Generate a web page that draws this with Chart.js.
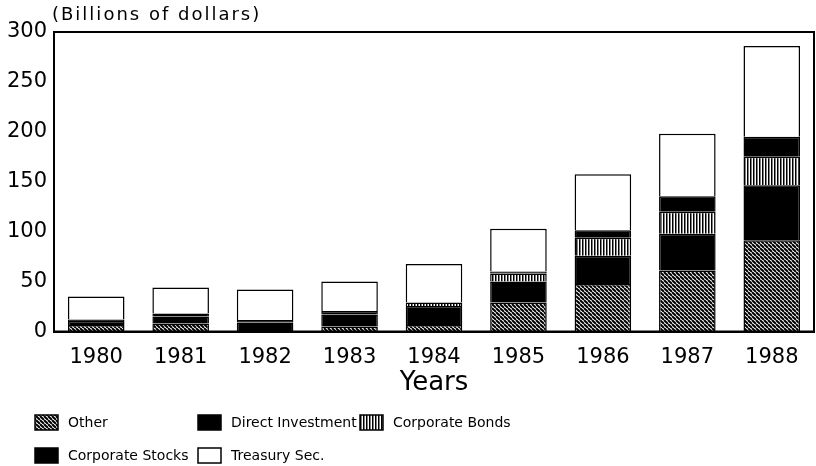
<!DOCTYPE html>
<html>
<head>
<meta charset="utf-8">
<script src="https://cdn.jsdelivr.net/npm/chart.js@4/dist/chart.umd.min.js"></script>
<style>
  html, body { margin: 0; padding: 0; background: #fff; }
  #wrap { width: 816px; height: 466px; }
</style>
</head>
<body>
<div id="wrap"><canvas id="barChart" width="816" height="466"></canvas></div>
<script>
// data (billions of dollars)
const years = ["1980", "1981", "1982", "1983", "1984", "1985", "1986", "1987", "1988"];
const other = [6.5, 8, 0, 5, 6.5, 29, 47.5, 61, 91.5];
const corpStocks = [4, 7, 9, 12, 19, 21, 28.5, 37, 55];
const corpBonds = [0, 0, 0, 0, 3.5, 8, 18, 22, 28.5];
const directInv = [1.5, 3, 2.5, 3.5, 0, 2, 7.5, 15.5, 20];
const treasury = [23, 26, 30.5, 29.5, 38.5, 43, 56, 62.5, 91];
const yTicks = [0, 50, 100, 150, 200, 250, 300];

const FONT = "'DejaVu Sans', sans-serif";

// fill patterns
function hatchPattern() {
  const c = document.createElement("canvas");
  c.width = 4;
  c.height = 4;
  const g = c.getContext("2d");
  g.fillStyle = "#fff";
  g.fillRect(0, 0, 4, 4);
  g.strokeStyle = "#000";
  g.lineWidth = 2;
  [-4, 0, 4].forEach((k) => {
    g.beginPath();
    g.moveTo(k, 0);
    g.lineTo(k + 4, 4);
    g.stroke();
  });
  return g.createPattern(c, "repeat");
}

function stripePattern() {
  const c = document.createElement("canvas");
  c.width = 3;
  c.height = 3;
  const g = c.getContext("2d");
  g.fillStyle = "#fff";
  g.fillRect(0, 0, 3, 3);
  g.fillStyle = "#000";
  g.fillRect(0, 0, 1.5, 3);
  return g.createPattern(c, "repeat");
}

const hatch = hatchPattern();
const stripes = stripePattern();

const ds = (label, data, bg) => ({
  label: label,
  data: data,
  backgroundColor: bg,
  borderColor: "#000",
  borderWidth: 1.5,
  barPercentage: 0.67,
  categoryPercentage: 1,
});

const datasets = [
  ds("Other", other, hatch),
  ds("Corporate Stocks", corpStocks, "#000"),
  ds("Corporate Bonds", corpBonds, stripes),
  ds("Direct Investment", directInv, "#000"),
  ds("Treasury Sec.", treasury, "#fff"),
];

// legend layout: [dataset index, x, y]
const legendItems = [
  [0, 35, 423],
  [3, 198, 423],
  [2, 360, 423],
  [1, 35, 456],
  [4, 198, 456],
];

const extras = {
  id: "extras",
  afterDraw(chart) {
    const ctx = chart.ctx;
    const a = chart.chartArea;
    ctx.save();
    // frame
    ctx.strokeStyle = "#000";
    ctx.lineWidth = 2;
    ctx.strokeRect(a.left, a.top, a.right - a.left, a.bottom - a.top);
    // unit label
    ctx.fillStyle = "#000";
    ctx.font = "18px " + FONT;
    ctx.letterSpacing = "2px";
    ctx.textBaseline = "middle";
    ctx.textAlign = "left";
    ctx.fillText("(Billions of dollars)", 52, 15);
    // legend
    ctx.font = "14px " + FONT;
    ctx.letterSpacing = "0px";
    legendItems.forEach(([i, x, y]) => {
      const d = chart.data.datasets[i];
      ctx.fillStyle = d.backgroundColor;
      ctx.fillRect(x, y - 8, 23, 15);
      ctx.lineWidth = 1.5;
      ctx.strokeRect(x, y - 8, 23, 15);
      ctx.fillStyle = "#000";
      ctx.fillText(d.label, x + 33, y);
    });
    ctx.restore();
  },
};

new Chart(document.getElementById("barChart"), {
  type: "bar",
  data: {labels: years, datasets: datasets},
  plugins: [extras],
  options: {
    responsive: false,
    devicePixelRatio: 1,
    animation: false,
    layout: {padding: {top: 32, right: 2, left: 0, bottom: 0}},
    plugins: {legend: {display: false}, tooltip: {enabled: false}},
    scales: {
      x: {
        stacked: true,
        grid: {display: false, drawTicks: false},
        border: {color: "#000", width: 2},
        ticks: {color: "#000", font: {family: FONT, size: 21}, padding: 13},
        title: {
          display: true,
          text: "Years",
          color: "#000",
          font: {family: FONT, size: 26},
          padding: {top: 0, bottom: 67},
        },
        afterFit: (scale) => {
          scale.height = 134.5;
        },
      },
      y: {
        stacked: true,
        min: 0,
        max: 300,
        afterBuildTicks: (scale) => {
          scale.ticks = yTicks.map((v) => ({value: v}));
        },
        grid: {display: false, drawTicks: false},
        border: {color: "#000", width: 2},
        ticks: {color: "#000", font: {family: FONT, size: 21}, padding: 7},
        afterFit: (scale) => {
          scale.width = 54;
        },
      },
    },
  },
});
</script>
</body>
</html>
